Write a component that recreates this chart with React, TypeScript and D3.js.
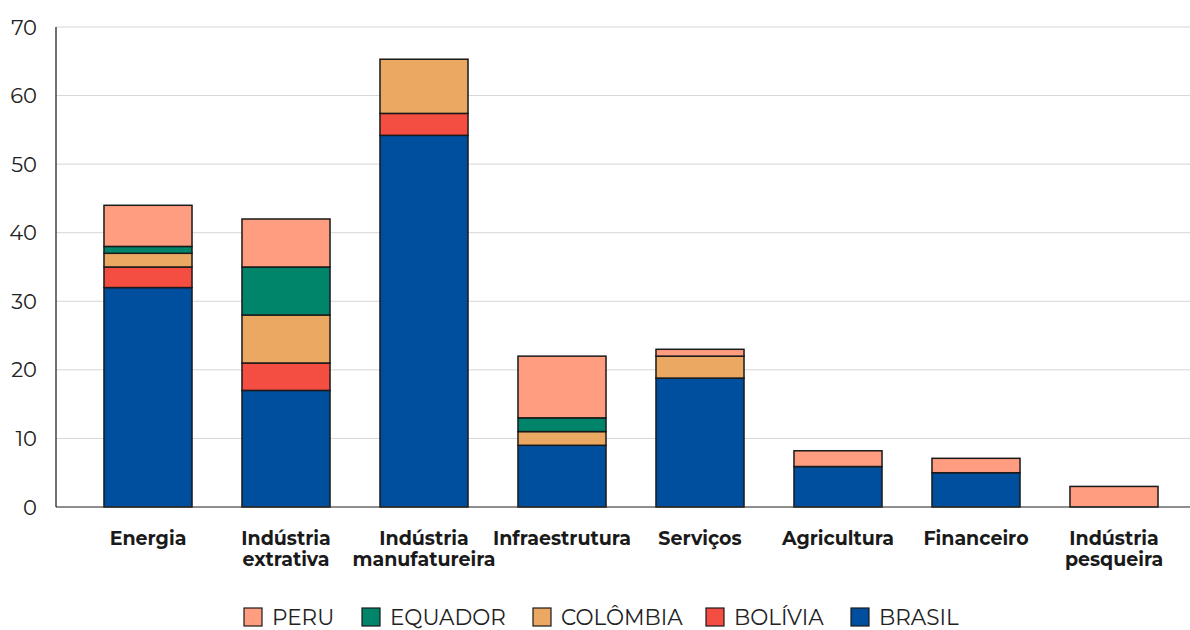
import React from "react";
import * as d3 from "d3";

const categories = [
  ["Energia"],
  ["Indústria", "extrativa"],
  ["Indústria", "manufatureira"],
  ["Infraestrutura"],
  ["Serviços"],
  ["Agricultura"],
  ["Financeiro"],
  ["Indústria", "pesqueira"],
];

// Stack order from bottom to top
const seriesNames = ["BRASIL", "BOLÍVIA", "COLÔMBIA", "EQUADOR", "PERU"];
const seriesColors = ["#004f9f", "#f44d42", "#eaa862", "#00846a", "#fe9d80"];

const brasil = [32, 17, 54.2, 9, 18.8, 5.9, 5, 0];
const bolivia = [3, 4, 3.2, 0, 0, 0, 0, 0];
const colombia = [2, 7, 7.9, 2, 3.2, 0, 0, 0];
const equador = [1, 7, 0, 2, 0, 0, 0, 0];
const peru = [6, 7, 0, 9, 1, 2.3, 2.1, 3];

const yTicks = [0, 10, 20, 30, 40, 50, 60, 70];

// Legend reads left to right in reverse stack order
const legendOrder = ["PERU", "EQUADOR", "COLÔMBIA", "BOLÍVIA", "BRASIL"];

const W = 1190;
const H = 630;
const FONT = "Montserrat, 'DejaVu Sans', sans-serif";

export default function App() {
  const values = [brasil, bolivia, colombia, equador, peru];
  const rows = categories.map((c, i) => {
    const r: Record<string, number | string> = { key: c.join(" ") };
    seriesNames.forEach((s, j) => (r[s] = values[j][i]));
    return r;
  });
  const stack = d3.stack<any>().keys(seriesNames)(rows);

  const x = d3
    .scaleBand<string>()
    .domain(rows.map((r) => r.key as string))
    .range([79, 1183])
    .paddingInner(0.362)
    .paddingOuter(0.181);
  const y = d3.scaleLinear().domain([0, 70]).range([507, 27]);
  const color = d3.scaleOrdinal<string, string>().domain(seriesNames).range(seriesColors);

  const legendX = [244, 362, 533, 706, 851];

  return (
    <svg
      width={W}
      height={H}
      style={{ position: "absolute", left: 0, top: 0, background: "#fff" }}
      fontFamily={FONT}
    >
      {/* gridlines */}
      {yTicks.map((t) => (
        <line key={t} x1={56} x2={W} y1={y(t)} y2={y(t)} stroke="#d6d6d6" strokeWidth={1} />
      ))}
      {/* y tick labels */}
      {yTicks.map((t) => (
        <text
          key={"l" + t}
          x={37}
          y={y(t)}
          textAnchor="end"
          dominantBaseline="central"
          fontSize={21}
          fill="#222"
        >
          {t}
        </text>
      ))}
      {/* stacked bars */}
      {stack.map((layer) => (
        <g key={layer.key} fill={color(layer.key)}>
          {layer.map((d, i) =>
            d[1] - d[0] > 0 ? (
              <rect
                key={i}
                x={x(d.data.key)}
                width={x.bandwidth()}
                y={y(d[1])}
                height={y(d[0]) - y(d[1])}
                stroke="#1a1a1a"
                strokeWidth={1.5}
              />
            ) : null
          )}
        </g>
      ))}
      {/* axes lines */}
      <line x1={56} x2={W} y1={y(0)} y2={y(0)} stroke="#333" strokeWidth={1.2} />
      <line x1={56} x2={56} y1={y(70)} y2={y(0)} stroke="#111" strokeWidth={1.2} />
      {/* category labels, one text element per line */}
      {categories.map((c, i) => {
        const cx = (x(c.join(" ")) as number) + x.bandwidth() / 2;
        return c.map((line, k) => (
          <text
            key={"c" + i + "-" + k}
            x={cx}
            y={545 + k * 21}
            textAnchor="middle"
            fontSize={19}
            fontWeight="bold"
            fill="#1a1a1a"
          >
            {line}
          </text>
        ));
      })}
      {/* legend */}
      {legendOrder.map((name, i) => (
        <g key={name} transform={`translate(${legendX[i]},608)`}>
          <rect width={18} height={18} fill={color(name)} stroke="#1a1a1a" strokeWidth={1.2} />
          <text x={28} y={17} fontSize={21.5} fill="#222">
            {name}
          </text>
        </g>
      ))}
    </svg>
  );
}
